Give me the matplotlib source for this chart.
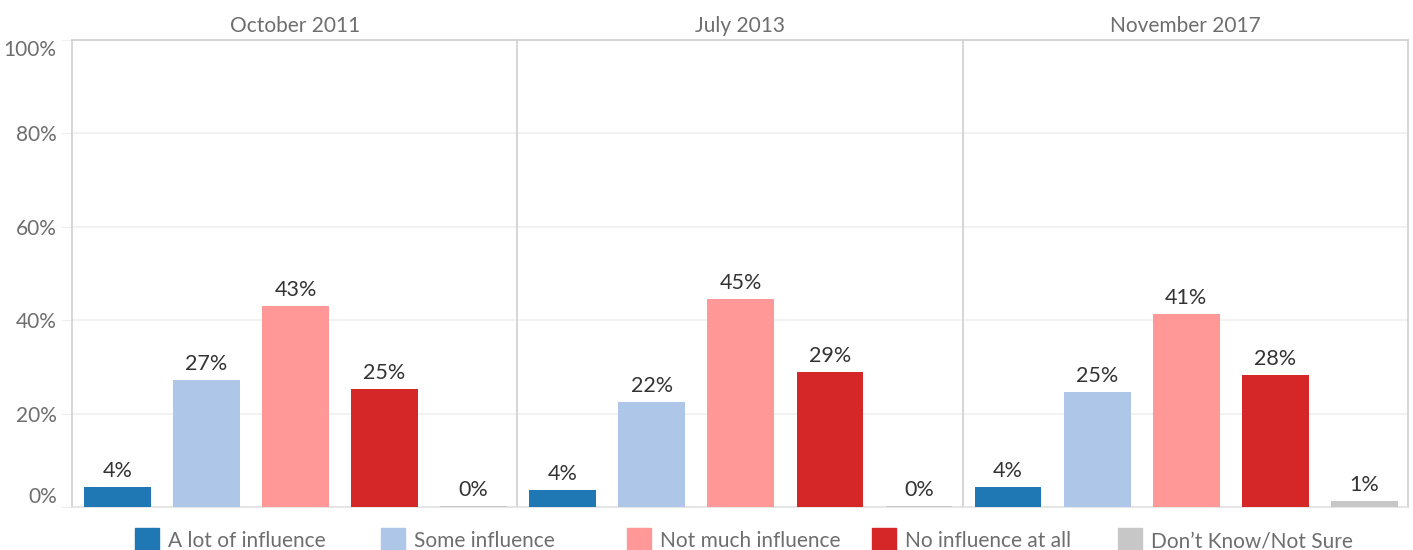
import numpy as np
import matplotlib.pyplot as plt
from matplotlib.patches import Rectangle

plt.rcParams['font.family'] = ['Lato', 'DejaVu Sans']

# data (percent)
panels = ['October 2011', 'July 2013', 'November 2017']
categories = ['A lot of influence', 'Some influence', 'Not much influence',
              'No influence at all', 'Don\u2019t Know/Not Sure']
oct_2011 = [4.3, 27.2, 43.1, 25.3, 0.2]
jul_2013 = [3.6, 22.4, 44.6, 28.9, 0.2]
nov_2017 = [4.3, 24.7, 41.3, 28.3, 1.3]
labels_oct = ['4%', '27%', '43%', '25%', '0%']
labels_jul = ['4%', '22%', '45%', '29%', '0%']
labels_nov = ['4%', '25%', '41%', '28%', '1%']
yticks = [0, 20, 40, 60, 80, 100]

colors = ['#1f77b4', '#aec7e8', '#ff9896', '#d62728', '#c7c7c7']
grey_txt = '#6e6e6e'
border = '#cfcfcf'

W, H = 1413, 550
fig = plt.figure(figsize=(W / 100, H / 100), dpi=100)

left, right, top, bottom = 72 / W, 1408 / W, 1 - 40 / H, 1 - 507 / H
pw = (right - left) / 3

series = [oct_2011, jul_2013, nov_2017]
labels = [labels_oct, labels_jul, labels_nov]

for i in range(3):
    ax = fig.add_axes([left + i * pw, bottom, pw, top - bottom])
    x = np.arange(len(categories))
    ax.bar(x, series[i], width=0.75, color=colors, zorder=3)
    for xi, v, lab in zip(x, series[i], labels[i]):
        ax.text(xi, v + 1.3, lab, ha='center', va='bottom', fontsize=15.5,
                color='#333333')
    ax.set_xlim(-0.51, 4.49)
    ax.set_ylim(0, 100)
    ax.set_xticks([])
    ax.set_yticks(yticks)
    ax.grid(axis='y', color='#f0f0f0', linewidth=1.2, zorder=0)
    for s in ax.spines.values():
        s.set_color(border)
        s.set_linewidth(1.2)
    ax.spines['bottom'].set_color('#e2e2e2')
    if i < 2:
        ax.spines['right'].set_visible(False)
    if i == 0:
        ax.set_yticklabels([f'{t}%' for t in yticks])
        ax.tick_params(axis='y', length=8, color='#eeeeee', labelsize=15,
                       labelcolor=grey_txt, pad=3)
        tl = ax.get_yticklabels()
        tl[0].set_va('bottom')
        tl[-1].set_va('top')
    else:
        ax.tick_params(axis='y', length=0, labelleft=False)
    ax.set_title(panels[i], fontsize=15, color=grey_txt, pad=6)

# legend along the bottom
x0 = 135
for j, (cat, c) in enumerate(zip(categories, colors)):
    xl = x0 + j * 245.8
    fig.patches.append(Rectangle((xl / W, 0), 24 / W, 22 / H,
                                 transform=fig.transFigure, color=c))
    fig.text((xl + 33) / W, 9 / H, cat, fontsize=15, color=grey_txt,
             va='center', ha='left')

fig.savefig('out.png', dpi=100)
